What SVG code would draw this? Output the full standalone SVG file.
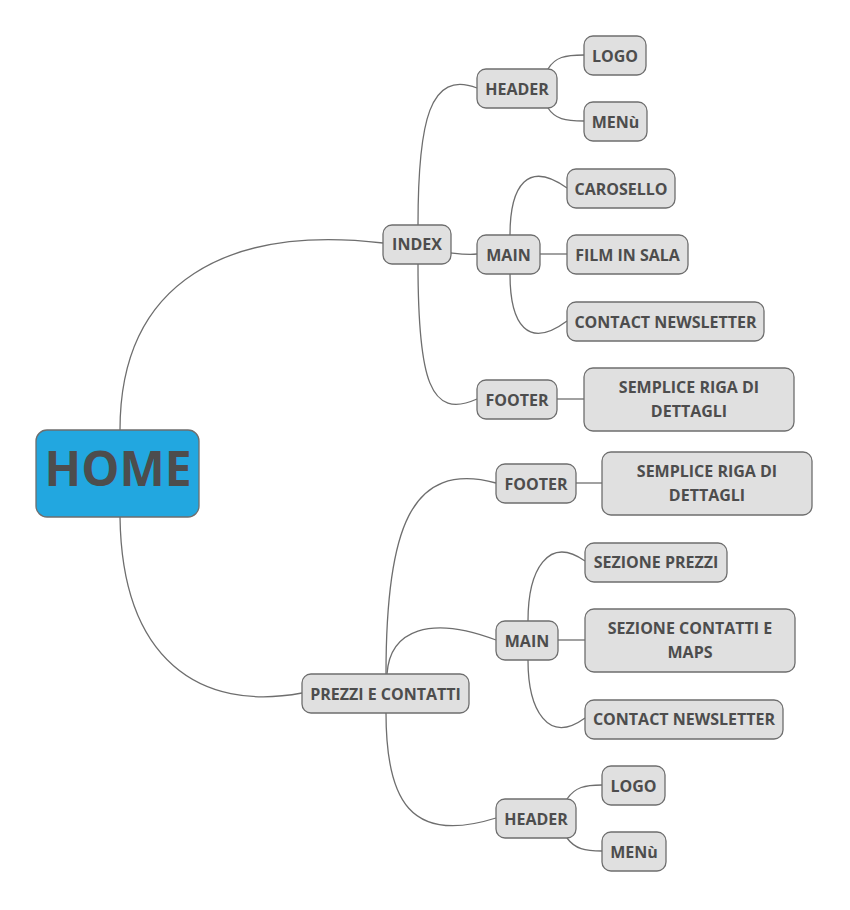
<svg xmlns="http://www.w3.org/2000/svg" width="850" height="910" viewBox="0 0 850 910">
<style>
.n rect{fill:#e0e0e0;stroke:#6e6e6e;stroke-width:1.3}
.n text{font-family:"Open Sans","Noto Sans",sans-serif;font-weight:bold;font-size:16px;fill:#4d4d4d;text-anchor:middle}
#conn path{fill:none;stroke:#6e6e6e;stroke-width:1.3}
</style>
<rect width="850" height="910" fill="#ffffff"/>
<g id="conn">
<path d="M120 430 C 120 280, 230 225, 383 243"/>
<path d="M120 517 C 122 660, 200 712, 302 693"/>
<path d="M418 225 C 418 120, 430 70, 477 88"/>
<path d="M451 253 C 460 254, 468 255, 477 254"/>
<path d="M418 264 C 418 380, 430 420, 477 399"/>
<path d="M548 69 C 555 57, 565 55, 584 55"/>
<path d="M548 108 C 555 119, 565 121, 584 121"/>
<path d="M510 235 C 510 185, 528 160, 567 188"/>
<path d="M540 254 L 567 254"/>
<path d="M510 274 C 510 325, 528 350, 567 321"/>
<path d="M557 399 L 584 399"/>
<path d="M386 674 C 386 530, 410 460, 496 483"/>
<path d="M387 674 C 390 630, 430 615, 496 640"/>
<path d="M386 713 C 386 800, 410 845, 496 818"/>
<path d="M576 483 L 602 483"/>
<path d="M528 621 C 528 570, 548 535, 585 561"/>
<path d="M558 640 L 585 640"/>
<path d="M528 660 C 528 710, 548 745, 585 718"/>
<path d="M567 799 C 575 787, 585 785, 602 785"/>
<path d="M567 838 C 575 849, 585 851, 602 851"/>
</g>
<g id="home"><rect x="36" y="430" width="163" height="87" rx="11" fill="#22a7e0" stroke="#6e6e6e" stroke-width="1.3"/><text x="118" y="486" font-family="'Open Sans','Noto Sans',sans-serif" font-weight="bold" font-size="48" fill="#4d4d4d" text-anchor="middle">HOME</text></g>
<g id="index" class="n"><rect x="383" y="225" width="68" height="39" rx="9"/><text x="417" y="249.5">INDEX</text></g>
<g id="header1" class="n"><rect x="477" y="69" width="80" height="39" rx="9"/><text x="517" y="94.5">HEADER</text></g>
<g id="logo1" class="n"><rect x="584" y="36" width="62" height="39" rx="9"/><text x="615" y="61.5">LOGO</text></g>
<g id="menu1" class="n"><rect x="584" y="102" width="63" height="39" rx="9"/><text x="615.5" y="127.5">MENù</text></g>
<g id="main1" class="n"><rect x="477" y="235" width="63" height="39" rx="9"/><text x="508.5" y="260.5">MAIN</text></g>
<g id="carosello" class="n"><rect x="567" y="169" width="108" height="39" rx="9"/><text x="621" y="194.5">CAROSELLO</text></g>
<g id="film" class="n"><rect x="567" y="235" width="121" height="39" rx="9"/><text x="627.5" y="260.5">FILM IN SALA</text></g>
<g id="contact1" class="n"><rect x="567" y="302" width="197" height="39" rx="9"/><text x="665.5" y="327.5">CONTACT NEWSLETTER</text></g>
<g id="footer1" class="n"><rect x="477" y="380" width="80" height="39" rx="9"/><text x="517" y="405.5">FOOTER</text></g>
<g id="semplice1" class="n"><rect x="584" y="368" width="210" height="63" rx="9"/><text x="689" y="393">SEMPLICE RIGA DI</text><text x="689" y="417">DETTAGLI</text></g>
<g id="prezzi" class="n"><rect x="302" y="674" width="167" height="39" rx="9"/><text x="385.5" y="699.5">PREZZI E CONTATTI</text></g>
<g id="footer2" class="n"><rect x="496" y="464" width="80" height="39" rx="9"/><text x="536" y="489.5">FOOTER</text></g>
<g id="semplice2" class="n"><rect x="602" y="452" width="210" height="63" rx="9"/><text x="707" y="477">SEMPLICE RIGA DI</text><text x="707" y="501">DETTAGLI</text></g>
<g id="main2" class="n"><rect x="496" y="621" width="62" height="39" rx="9"/><text x="527" y="646.5">MAIN</text></g>
<g id="sezprezzi" class="n"><rect x="585" y="543" width="142" height="39" rx="9"/><text x="656" y="567.5">SEZIONE PREZZI</text></g>
<g id="sezcontatti" class="n"><rect x="585" y="609" width="210" height="63" rx="9"/><text x="690" y="634">SEZIONE CONTATTI E</text><text x="690" y="658">MAPS</text></g>
<g id="contact2" class="n"><rect x="585" y="700" width="198" height="39" rx="9"/><text x="684" y="724.5">CONTACT NEWSLETTER</text></g>
<g id="header2" class="n"><rect x="496" y="799" width="80" height="39" rx="9"/><text x="536" y="824.5">HEADER</text></g>
<g id="logo2" class="n"><rect x="602" y="766" width="63" height="39" rx="9"/><text x="633.5" y="791.5">LOGO</text></g>
<g id="menu2" class="n"><rect x="602" y="832" width="64" height="39" rx="9"/><text x="634" y="857.5">MENù</text></g>
</svg>
